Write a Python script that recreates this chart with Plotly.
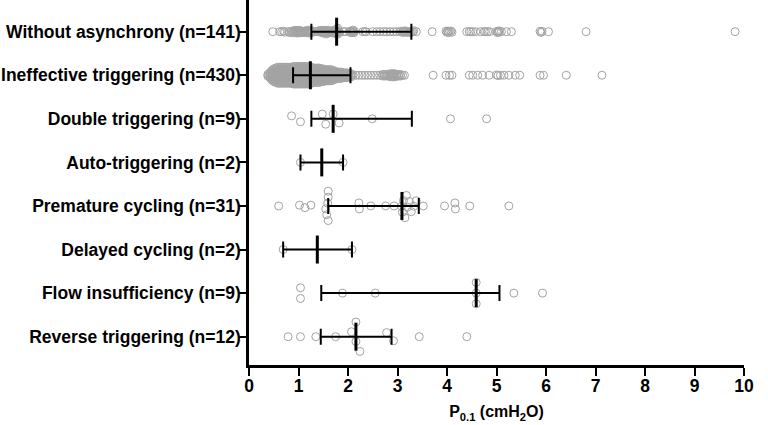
import numpy as np
import plotly.graph_objects as go


# COLORES
GRIS = "#a3a3a3"
NEGRO = "#000000"

# DATOS
categorias = [
    "Without asynchrony (n=141)",
    "Ineffective triggering (n=430)",
    "Double triggering (n=9)",
    "Auto-triggering (n=2)",
    "Premature cycling (n=31)",
    "Delayed cycling (n=2)",
    "Flow insufficiency (n=9)",
    "Reverse triggering (n=12)",
]

mediana = [1.77, 1.24, 1.70, 1.47, 3.09, 1.38, 4.59, 2.16]
q1 = [1.26, 0.89, 1.26, 1.04, 1.60, 0.69, 1.46, 1.45]
q3 = [3.28, 2.05, 3.29, 1.90, 3.43, 2.08, 5.06, 2.88]

sin_asincronia = [
    0.48, 0.62, 0.66, 0.70, 0.72, 0.80, 0.82, 0.85, 0.88, 0.90, 0.90, 0.92,
    0.93, 0.95, 0.96, 0.97, 0.98, 1.00, 1.00, 1.02, 1.03, 1.05, 1.07, 1.08,
    1.10, 1.12, 1.14, 1.16, 1.17, 1.18, 1.20, 1.21, 1.22, 1.24, 1.25, 1.26,
    1.28, 1.32, 1.37, 1.40, 1.42, 1.44, 1.45, 1.47, 1.48, 1.50, 1.50, 1.52,
    1.53, 1.55, 1.55, 1.56, 1.57, 1.58, 1.60, 1.60, 1.62, 1.63, 1.65, 1.68,
    1.69, 1.70, 1.72, 1.73, 1.74, 1.75, 1.76, 1.77, 1.77, 1.78, 1.78,
    1.79, 1.81, 1.83, 1.90, 1.95, 2.03, 2.05, 2.07, 2.08, 2.10, 2.10, 2.12,
    2.13, 2.30, 2.34, 2.37, 2.50, 2.58, 2.65, 2.72, 2.78, 2.85, 2.92, 2.98,
    3.04, 3.08, 3.10, 3.12, 3.14, 3.15, 3.18, 3.20, 3.24, 3.26, 3.28,
    3.31, 3.33, 3.38, 3.70, 3.98, 4.00, 4.02, 4.03, 4.05, 4.08, 4.10, 4.40,
    4.45, 4.48, 4.52, 4.58, 4.68, 4.75, 4.78, 4.82, 4.86, 5.00, 5.02, 5.03,
    5.05, 5.06, 5.10, 5.20, 5.30, 5.88, 5.90, 5.92, 6.05, 6.81, 9.82,
]

# disparo ineficaz: tabla de frecuencias (valor, número de ciclos)
ineficaz_valores = [
    0.38, 0.42, 0.46, 0.50, 0.54, 0.58, 0.62, 0.66, 0.70, 0.74, 0.78, 0.82, 0.86,
    0.90, 0.94, 0.98, 1.02, 1.06, 1.10, 1.14, 1.18, 1.22,
    1.26, 1.30, 1.34, 1.38, 1.42,
    1.46, 1.50, 1.54, 1.58, 1.62, 1.66, 1.70,
    1.74, 1.78, 1.82, 1.86, 1.90, 1.94, 1.98, 2.02, 2.06,
    2.10, 2.16, 2.22, 2.28, 2.34, 2.40, 2.46, 2.52, 2.58, 2.64,
    2.70, 2.74, 2.78, 2.82, 2.86, 2.90, 2.94, 2.98, 3.02, 3.06, 3.10, 3.14,
    3.72, 3.98, 4.05, 4.10, 4.45, 4.52, 4.62, 4.72, 4.85, 5.00, 5.03, 5.08,
    5.15, 5.25, 5.38, 5.47, 5.88, 5.95, 6.41, 7.13,
]
ineficaz_conteos = [
    2, 4, 7, 9, 10, 11, 11, 11, 11, 11, 11, 11, 11,
    12, 12, 12, 12, 12, 12, 12, 12, 12,
    11, 10, 10, 10, 10,
    9, 9, 8, 8, 8, 8, 7,
    6, 5, 5, 5, 4, 4, 4, 3, 3,
    1, 1, 1, 1, 1, 1, 1, 1, 1, 1,
    2, 2, 2, 2, 3, 3, 3, 2, 2, 2, 1, 1,
    1, 1, 1, 1, 1, 1, 1, 1, 1, 1, 1, 1,
    1, 1, 1, 1, 1, 1, 1, 1,
]

doble_disparo = [0.86, 1.04, 1.48, 1.55, 1.70, 1.82, 2.49, 4.07, 4.80]
autodisparo = [1.04, 1.90]
ciclado_prematuro = [
    0.60, 1.02, 1.13, 1.25, 1.55, 1.57, 1.59, 1.60, 1.60, 1.60, 2.22, 2.23,
    2.46, 2.76, 2.93, 3.08, 3.10, 3.12, 3.15, 3.18, 3.20, 3.24, 3.28, 3.33,
    3.38, 3.52, 3.95, 4.16, 4.17, 4.46, 5.25,
]
ciclado_tardio = [0.69, 2.08]
flujo_insuficiente = [1.04, 1.04, 1.89, 2.55, 4.59, 4.59, 4.59, 5.35, 5.93]
disparo_reverso = [0.79, 1.04, 1.35, 1.75, 2.07, 2.16, 2.16, 2.24, 2.78, 2.92, 3.44, 4.40]

filas = [
    sin_asincronia,
    list(np.repeat(ineficaz_valores, ineficaz_conteos)),
    doble_disparo,
    autodisparo,
    ciclado_prematuro,
    ciclado_tardio,
    flujo_insuficiente,
    disparo_reverso,
]

# separación mínima entre círculos (px) para el enjambre de cada fila
SEPARACION = [1.5, 1.6, 10.7, 10.7, 6.0, 10.7, 10.7, 10.7]

# geometría del área de trazado
ANCHO, ALTO = 768, 425
M_IZQ, M_DER, M_SUP, M_INF = 249, 24, 0, 60
X_RANGO = [0, 10]
Y_RANGO = [7.65, -0.727]
PX_X = (ANCHO - M_IZQ - M_DER) / (X_RANGO[1] - X_RANGO[0])
PX_Y = (ALTO - M_SUP - M_INF) / (Y_RANGO[0] - Y_RANGO[1])


def enjambre(xs, sep):
    """Desplazamientos verticales (px) tipo beeswarm, centrados por grupo."""
    xs = np.asarray(xs, dtype=float)
    orden = np.argsort(xs, kind="stable")
    offs = np.zeros(len(xs))
    colocados = []
    for i in orden:
        xp = xs[i] * PX_X
        bloqueos = []
        for cx, cy in colocados:
            dx = abs(cx - xp)
            if dx < sep:
                h = np.sqrt(sep ** 2 - dx ** 2)
                bloqueos.append((cy - h, cy + h))
        candidatos = [0.0] + [b for iv in bloqueos for b in iv]
        candidatos.sort(key=lambda c: (round(abs(c), 6), -c))
        y = 0.0
        for c in candidatos:
            if all(not (lo + 1e-6 < c < hi - 1e-6) for lo, hi in bloqueos):
                y = c
                break
        offs[i] = y
        colocados.append((xp, y))
    # centrar cada grupo de puntos que se tocan
    xs_ord = xs[orden] * PX_X
    inicio = 0
    for k in range(1, len(orden) + 1):
        if k == len(orden) or xs_ord[k] - xs_ord[k - 1] >= sep:
            idx = orden[inicio:k]
            offs[idx] -= offs[idx].mean()
            inicio = k
    return offs


px_all, py_all = [], []
for fila, (valores, sep) in enumerate(zip(filas, SEPARACION)):
    offs = enjambre(valores, sep)
    px_all.extend(valores)
    py_all.extend(fila + offs / PX_Y)

fig = go.Figure()

fig.add_trace(go.Scatter(
    x=px_all, y=py_all, mode="markers",
    marker=dict(symbol="circle-open", size=8, color=GRIS, line=dict(width=1, color=GRIS)),
    hoverinfo="x", showlegend=False,
))

filas_idx = list(range(len(categorias)))
fig.add_trace(go.Scatter(
    x=mediana, y=filas_idx, mode="markers",
    marker=dict(symbol="line-ns", size=20, color=NEGRO, line=dict(width=3, color=NEGRO)),
    error_x=dict(type="data", symmetric=False,
                 array=[b - m for b, m in zip(q3, mediana)],
                 arrayminus=[m - a for m, a in zip(mediana, q1)],
                 color=NEGRO, thickness=2, width=8),
    showlegend=False,
))

fuente = dict(family="Liberation Sans, Arial, sans-serif", size=17.5, color=NEGRO, weight="bold")

fig.update_layout(
    width=ANCHO, height=ALTO,
    margin=dict(l=M_IZQ, r=M_DER, t=M_SUP, b=M_INF),
    paper_bgcolor="white", plot_bgcolor="white",
    font=fuente,
    xaxis=dict(range=X_RANGO, dtick=1, ticks="outside", ticklen=8, tickwidth=2,
               tickcolor=NEGRO, showline=True, linewidth=2.5, linecolor=NEGRO,
               showgrid=False, zeroline=False, tickfont=fuente, automargin=False,
               ticklabelstandoff=-5,
               title=dict(text="P<sub>0.1</sub> (cmH<sub>2</sub>O)", font=dict(fuente, size=16), standoff=12)),
    yaxis=dict(range=Y_RANGO, tickvals=filas_idx, ticktext=categorias, ticks="outside",
               ticklen=8, tickwidth=2, tickcolor=NEGRO, showline=True, linewidth=2.5,
               linecolor=NEGRO, showgrid=False, zeroline=False, tickfont=fuente,
               ticklabelstandoff=-6, automargin=False),
)

# sin el margen por defecto del <body>, la figura ocupa toda la ventana
fig.write_html("out.html", config={"displayModeBar": False},
               post_script="document.body.style.margin='0';")
